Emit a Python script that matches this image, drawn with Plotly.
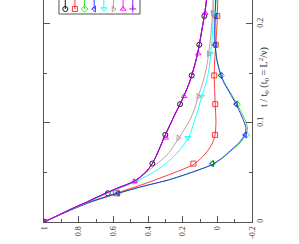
import plotly.graph_objects as go

# ---------------- data ----------------
# time axis t/t0 and correlation values, per series
T_A = [0, 0.005, 0.01, 0.015, 0.02, 0.025, 0.03, 0.035, 0.041, 0.05, 0.059, 0.067, 0.075, 0.088,
       0.1, 0.11, 0.119, 0.13, 0.14, 0.148, 0.16, 0.17, 0.179, 0.19, 0.2, 0.209, 0.218, 0.226]
V_BLACK = [1.0, 0.94, 0.88, 0.82, 0.755, 0.695, 0.632, 0.565, 0.48, 0.415, 0.375, 0.352, 0.332, 0.30,
           0.268, 0.241, 0.215, 0.186, 0.163, 0.148, 0.128, 0.114, 0.104, 0.093, 0.083, 0.074, 0.067, 0.061]
V_MAGENTA = list(V_BLACK)
V_PURPLE = list(V_BLACK)

T_RED = [0, 0.01, 0.02, 0.029, 0.038, 0.0475, 0.058, 0.065, 0.0707, 0.076, 0.081, 0.088, 0.1,
         0.119, 0.135, 0.148, 0.164, 0.179, 0.195, 0.208, 0.226]
V_RED = [1.0, 0.875, 0.74, 0.585, 0.43, 0.283, 0.138, 0.09, 0.061, 0.04, 0.025, 0.013, 0.008,
         0.012, 0.016, 0.018, 0.015, 0.009, 0.003, 0.0, -0.003]

T_BLUE = [0, 0.01, 0.02, 0.029, 0.036, 0.0424, 0.05, 0.058, 0.065, 0.072, 0.08, 0.088, 0.095,
          0.103, 0.111, 0.119, 0.13, 0.14, 0.148, 0.154, 0.164, 0.179, 0.195, 0.208, 0.226]
V_BLUE = [1.0, 0.875, 0.735, 0.573, 0.43, 0.283, 0.15, 0.029, -0.03, -0.075, -0.125, -0.158, -0.165,
          -0.15, -0.13, -0.108, -0.073, -0.04, -0.02, -0.01, 0.003, 0.013, 0.015, 0.013, 0.009]
V_GREEN = [1.0, 0.875, 0.735, 0.573, 0.43, 0.283, 0.15, 0.029, -0.033, -0.08, -0.132, -0.165, -0.174,
           -0.16, -0.138, -0.114, -0.078, -0.043, -0.022, -0.012, 0.002, 0.012, 0.013, 0.011, 0.008]

T_TAN = [0, 0.01, 0.02, 0.03, 0.041, 0.05, 0.06, 0.069, 0.084, 0.095, 0.103, 0.115, 0.127, 0.14,
         0.154, 0.17, 0.19, 0.211, 0.226]
V_TAN = [1.0, 0.88, 0.75, 0.625, 0.475, 0.41, 0.34, 0.283, 0.225, 0.185, 0.158, 0.13, 0.11, 0.085,
         0.065, 0.05, 0.037, 0.027, 0.025]

T_CYAN = [0, 0.01, 0.02, 0.03, 0.041, 0.05, 0.061, 0.072, 0.0835, 0.092, 0.101, 0.114, 0.127, 0.14,
          0.154, 0.17, 0.19, 0.211, 0.226]
V_CYAN = [1.0, 0.88, 0.75, 0.62, 0.47, 0.37, 0.283, 0.22, 0.171, 0.15, 0.134, 0.11, 0.09, 0.066,
          0.048, 0.038, 0.028, 0.022, 0.02]

# marker samples
TM_30 = [0, 0.029, 0.059, 0.088, 0.119, 0.148, 0.179, 0.208]
VM_BLACK = [1.0, 0.632, 0.375, 0.30, 0.215, 0.148, 0.104, 0.075]
VM_RED = [1.0, 0.585, 0.138, 0.013, 0.012, 0.018, 0.009, 0.0]
VM_GREEN = [1.0, 0.573, 0.029, -0.167, -0.114, -0.022, 0.012, 0.011]
VM_BLUE = [1.0, 0.573, 0.029, -0.16, -0.108, -0.02, 0.013, 0.013]
TM_42 = [0, 0.041, 0.085, 0.127, 0.170, 0.211]
VM_CYAN = [1.0, 0.47, 0.171, 0.09, 0.04, 0.022]
VM_TAN = [1.0, 0.475, 0.225, 0.11, 0.05, 0.027]
VM_MAGENTA = [1.0, 0.479, 0.298, 0.192, 0.11, 0.07]
TM_PURPLE = [0]
VM_PURPLE = [1.0]

X_TICKS = [1, 0.8, 0.6, 0.4, 0.2, 0, -0.2]
X_TICKTEXT = ["1", "0.8", "0.6", "0.4", "0.2", "0", "-0.2"]
X_MINOR = [0.9, 0.7, 0.5, 0.3, 0.1, -0.1]
Y_TICKS = [0, 0.1, 0.2]
Y_TICKTEXT = ["0", "0.1", "0.2"]
Y_MINOR = [0.05, 0.15]

# ---------------- styles ----------------
series = [
    ("black",   "#000000", "circle-open",         T_A,    V_BLACK,   TM_30, VM_BLACK),
    ("red",     "#ff2020", "square-open",         T_RED,  V_RED,     TM_30, VM_RED),
    ("green",   "#20e020", "diamond-open",        T_BLUE, V_GREEN,   TM_30, VM_GREEN),
    ("blue",    "#2020ff", "triangle-left-open",  T_BLUE, V_BLUE,    TM_30, VM_BLUE),
    ("cyan",    "#00ffff", "triangle-down-open",  T_CYAN, V_CYAN,    TM_42, VM_CYAN),
    ("tan",     "#bc8f8f", "triangle-right-open", T_TAN,  V_TAN,     TM_42, VM_TAN),
    ("magenta", "#ff00ff", "triangle-up-open",    T_A,    V_MAGENTA, TM_42, VM_MAGENTA),
    ("purple",  "#9400d3", "cross-thin-open",     T_A,    V_PURPLE,  TM_PURPLE, VM_PURPLE),
]

fig = go.Figure()
for name, col, sym, t, v, tm, vm in series:
    fig.add_trace(go.Scatter(x=v, y=t, mode="lines", line=dict(color=col, width=0.9, shape="spline", smoothing=0.6),
                             showlegend=False, hoverinfo="skip"))
    fig.add_trace(go.Scatter(x=vm, y=tm, mode="markers",
                             marker=dict(symbol=sym, size=5, color=col, line=dict(color=col, width=0.9)),
                             showlegend=False, hoverinfo="skip"))

# legend entries (rotated look), drawn on an auxiliary axis
for i, (name, col, sym, *_rest) in enumerate(series):
    fig.add_trace(go.Scatter(x=[i, i], y=[0.36, 1.0], mode="lines", line=dict(color=col, width=0.9),
                             xaxis="x2", yaxis="y2", showlegend=False, hoverinfo="skip"))
    fig.add_trace(go.Scatter(x=[i], y=[0.36], mode="markers",
                             marker=dict(symbol=sym, size=5, color=col, line=dict(color=col, width=0.9)),
                             xaxis="x2", yaxis="y2", showlegend=False, hoverinfo="skip"))

axcol = "#555555"
tickfont = dict(family="Liberation Serif, Times New Roman, serif", size=8, color="#333333")

fig.update_layout(
    width=299, height=244,
    margin=dict(l=44, r=47, t=0, b=22),
    paper_bgcolor="white", plot_bgcolor="white",
    hovermode=False,
    xaxis=dict(range=[1, -0.2], tickvals=X_TICKS, ticktext=X_TICKTEXT, tickangle=-90,
               ticks="inside", ticklen=6, tickwidth=1, tickcolor=axcol,
               minor=dict(tickvals=X_MINOR, ticks="inside", ticklen=3, tickcolor=axcol),
               showline=True, linecolor=axcol, linewidth=1, mirror=False,
               showgrid=False, zeroline=False, tickfont=tickfont),
    yaxis=dict(range=[0, 0.2242], side="right", tickvals=Y_TICKS, ticktext=Y_TICKTEXT, tickangle=-90,
               ticks="inside", ticklen=6, tickwidth=1, tickcolor=axcol,
               minor=dict(tickvals=Y_MINOR, ticks="inside", ticklen=3, tickcolor=axcol),
               showline=True, linecolor=axcol, linewidth=1, mirror="ticks",
               showgrid=False, zeroline=False, tickfont=tickfont),
    xaxis2=dict(domain=[0.0721, 0.4615], range=[-0.65, 7.75], visible=False, anchor="y2"),
    yaxis2=dict(domain=[0.9369, 1.0], range=[0, 1], visible=False, anchor="x2"),
    shapes=[dict(type="rect", xref="x2 domain", yref="y2 domain", x0=0, x1=1, y0=0, y1=1.6,
                 line=dict(color=axcol, width=1), fillcolor="rgba(0,0,0,0)")],
    annotations=[dict(text="t / t<sub>0</sub> (t<sub>0</sub> = L<sup>2</sup>/ν)", textangle=-90,
                      xref="paper", yref="paper", x=1.101, y=0.653, showarrow=False,
                      font=dict(family="Liberation Serif, Times New Roman, serif", size=10, color="#333333"))],
)

fig.write_html("out.html", config={"displayModeBar": False, "staticPlot": True},
               post_script="document.body.style.margin='0px';")
